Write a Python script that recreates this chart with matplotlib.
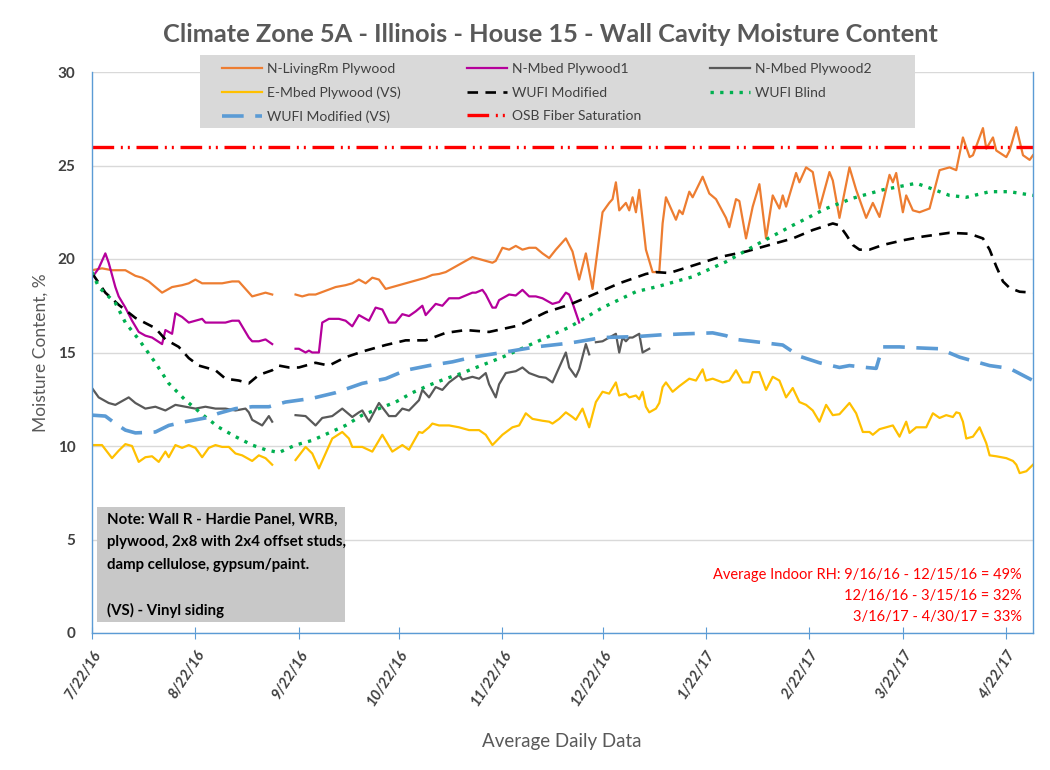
import numpy as np
import matplotlib
matplotlib.use('Agg')
import matplotlib.pyplot as plt
from matplotlib.patches import Rectangle

plt.rcParams['font.family'] = ['Lato', 'DejaVu Sans']

NAN = np.nan
START = np.datetime64('2016-07-22')
END = np.datetime64('2017-04-30')

tick_dates = ['2016-07-22', '2016-08-22', '2016-09-22', '2016-10-22', '2016-11-22',
              '2016-12-22', '2017-01-22', '2017-02-22', '2017-03-22', '2017-04-22']
tick_labels = ['7/22/16', '8/22/16', '9/22/16', '10/22/16', '11/22/16',
               '12/22/16', '1/22/17', '2/22/17', '3/22/17', '4/22/17']

# N-LivingRm Plywood (days since 7/22/16, moisture %)
livingrm_days = [0, 3, 6, 10, 13, 15, 17, 19, 21, 24, 27, 29, 31, 33, 35, 37, 39, 42, 44, 46, 48, 50, 52, 54, 57,
                 61, 63, 65, 67, 70, 73, 76, 78, 80, 82, 84, 86, 88, 90, 92, 94, 96, 98, 100, 102, 104, 106, 108,
                 110, 112, 114, 116, 118, 120, 121, 123, 125, 127, 129, 131, 133, 135, 137, 139, 141, 142, 144,
                 146, 148, 150, 153, 155, 156, 157, 158, 160, 161, 162, 163, 164, 166, 168, 170, 171, 172, 175,
                 176, 177, 179, 180, 183, 185, 187, 190, 191, 193, 194, 196, 198, 200, 202, 204, 206, 207, 208,
                 211, 212, 214, 216, 218, 221, 222, 224, 227, 229, 232, 234, 236, 239, 240, 241, 243, 244, 246,
                 248, 251, 254, 257, 259, 261, 263, 264, 267, 268, 270, 271, 274, 275, 277, 279, 281, 282]
livingrm_vals = [19.4, 19.5, 19.4, 19.4, 19.1, 19.0, 18.8, 18.5, 18.2, 18.5, 18.6, 18.7, 18.9, 18.7, 18.7, 18.7,
                 18.7, 18.8, 18.8, 18.4, 18.0, 18.1, 18.2, 18.1, NAN,
                 18.1, 18.0, 18.1, 18.1, 18.3, 18.5, 18.6, 18.7, 18.9, 18.7, 19.0, 18.9, 18.4, 18.5, 18.6, 18.7,
                 18.8, 18.9, 19.0, 19.15, 19.2, 19.3, 19.5, 19.7, 19.9, 20.1, 20.0, 19.9, 19.8, 19.9, 20.6, 20.5,
                 20.7, 20.5, 20.6, 20.6, 20.3, 20.05, 20.5, 20.9, 21.1, 20.4, 18.9, 20.3, 18.4, 22.5, 23.0, 23.2,
                 24.1, 22.6, 23.0, 22.6, 23.3, 22.5, 23.7, 20.5, 19.3, 19.3, 21.9, 23.3, 22.1, 22.6, 22.4, 23.6,
                 23.3, 24.4, 23.5, 23.2, 22.2, 21.7, 23.2, 23.1, 21.1, 22.8, 24.0, 21.1, 23.4, 22.7, 23.4, 22.8,
                 24.6, 24.1, 24.9, 24.65, 22.7, 24.65, 24.2, 22.2, 24.9, 23.7, 22.2, 23.0, 22.25, 24.5, 24.1, 24.6,
                 22.5, 23.4, 22.6, 22.5, 22.7, 24.75, 24.9, 24.75, 26.5, 25.45, 25.55, 27.0, 25.9, 26.5, 25.8,
                 25.45, 25.8, 27.05, 25.55, 25.3, 25.55]

# N-Mbed Plywood1
mbed1_days = [0, 2, 4, 5, 7, 8, 10, 12, 14, 16, 18, 21, 22, 23, 24, 25, 27, 29, 31, 33, 34, 36, 38, 40, 42, 44,
              45, 47, 48, 50, 52, 54, 57,
              61, 62, 64, 65, 66, 68, 69, 71, 72, 74, 76, 78, 80, 82, 83, 85, 87, 89, 91, 93, 95, 97, 99, 100,
              103, 105, 107, 110, 112, 114, 115, 117, 118, 120, 121, 122, 125, 127, 129, 131, 133, 135, 138,
              140, 142, 143, 144, 146]
mbed1_vals = [19.0, 19.5, 20.3, 19.8, 18.5, 18.0, 17.4, 16.7, 16.1, 15.9, 15.8, 15.45, 16.2, 16.1, 16.0, 17.1,
              16.9, 16.6, 16.7, 16.8, 16.6, 16.6, 16.6, 16.6, 16.7, 16.7, 16.4, 15.8, 15.6, 15.6, 15.7, 15.45, NAN,
              15.2, 15.2, 15.0, 15.1, 15.0, 15.0, 16.6, 16.8, 16.8, 16.8, 16.7, 16.4, 17.0, 16.8, 16.7, 17.4,
              17.3, 16.6, 16.6, 17.05, 16.95, 17.2, 17.5, 17.0, 17.6, 17.5, 17.9, 17.9, 18.05, 18.2, 18.2, 18.35,
              18.1, 17.4, 17.4, 17.8, 18.1, 18.05, 18.35, 18.0, 18.0, 17.9, 17.6, 17.7, 18.2, 18.1, 17.65, 16.6]

# N-Mbed Plywood2
mbed2_days = [0, 2, 5, 7, 9, 11, 13, 16, 19, 22, 25, 28, 31, 34, 37, 40, 43, 46, 47, 48, 51, 53, 54, 57,
              61, 64, 67, 69, 72, 75, 78, 80, 81, 83, 86, 89, 91, 93, 95, 98, 99, 101, 103, 105, 107, 110, 111,
              114, 116, 118, 119, 121, 122, 124, 127, 129, 131, 134, 136, 138, 140, 142, 143, 145, 146, 148, 149,
              150, 151, 153, 155, 157, 158, 159, 160, 161, 162, 164, 165, 167]
mbed2_vals = [13.1, 12.6, 12.3, 12.2, 12.4, 12.6, 12.3, 12.0, 12.1, 11.9, 12.2, 12.1, 12.0, 12.1, 12.0, 12.0,
              11.9, 12.0, 11.8, 11.4, 11.1, 11.6, 11.3, NAN,
              11.65, 11.6, 11.1, 11.5, 11.6, 12.0, 11.55, 11.8, 11.9, 11.3, 12.3, 11.6, 11.6, 12.0, 11.9, 12.45,
              13.0, 12.6, 13.15, 13.0, 13.4, 13.8, 13.55, 13.7, 13.6, 13.9, 13.3, 12.6, 13.3, 13.9, 14.0, 14.2,
              13.9, 13.7, 13.65, 13.4, 14.2, 15.0, 14.2, 13.7, 14.1, 15.45, 14.9,
              NAN, 15.55, 15.6, 15.8, 16.0, 15.0, 15.8, 15.6, 15.8, 15.8, 16.0, 15.0, 15.2]

# E-Mbed Plywood (VS)
embed_days = [0, 3, 6, 8, 10, 12, 14, 16, 18, 20, 22, 23, 25, 27, 29, 31, 33, 35, 37, 39, 41, 43, 45, 48, 50,
              52, 54, 57,
              61, 64, 66, 68, 70, 72, 75, 77, 78, 81, 84, 87, 90, 93, 95, 98, 99, 101, 102, 104, 107, 110, 113,
              116, 118, 120, 123, 126, 128, 130, 132, 135, 137, 138, 140, 142, 144, 145, 147, 149, 151, 153,
              155, 156, 157, 158, 160, 161, 163, 164, 165, 166, 167, 169, 170, 171, 172, 174, 176, 179, 181,
              183, 184, 186, 189, 191, 193, 195, 197, 198, 200, 202, 204, 206, 208, 210, 212, 214, 216, 218,
              220, 222, 224, 227, 229, 231, 233, 234, 236, 240, 242, 244, 245, 247, 250, 252, 254, 256, 258,
              259, 260, 261, 262, 264, 266, 268, 269, 271, 274, 276, 277, 278, 280, 282]
embed_vals = [10.05, 10.05, 9.35, 9.75, 10.1, 10.0, 9.15, 9.4, 9.45, 9.15, 9.7, 9.4, 10.05, 9.9, 10.05, 9.9,
              9.4, 9.9, 10.05, 9.95, 9.95, 9.6, 9.5, 9.2, 9.5, 9.35, 9.0, NAN,
              9.25, 9.95, 9.6, 8.8, 9.6, 10.4, 10.75, 10.4, 9.95, 9.95, 9.7, 10.6, 9.7, 10.05, 9.8, 10.75, 10.7,
              11.0, 11.2, 11.1, 11.1, 11.0, 10.85, 10.85, 10.6, 10.05, 10.6, 11.0, 11.1, 11.75, 11.45, 11.35,
              11.3, 11.2, 11.45, 11.8, 11.55, 11.4, 12.0, 11.0, 12.35, 12.9, 12.8, 13.1, 13.4, 12.7, 12.8, 12.6,
              12.7, 12.5, 12.9, 12.1, 11.8, 12.0, 12.3, 13.15, 13.4, 12.9, 13.2, 13.6, 13.5, 14.1, 13.5, 13.6,
              13.4, 13.5, 14.05, 13.4, 13.4, 13.95, 13.95, 13.0, 13.7, 13.5, 12.6, 13.1, 12.35, 12.2, 11.9,
              11.3, 12.2, 11.65, 11.7, 12.3, 11.75, 10.75, 10.75, 10.6, 10.9, 11.1, 10.5, 11.3, 10.7, 11.0,
              11.0, 11.75, 11.5, 11.65, 11.55, 11.8, 11.75, 11.3, 10.4, 10.5, 11.0, 10.15, 9.5, 9.45, 9.35,
              9.2, 9.0, 8.55, 8.65, 9.0]

# WUFI Modified
wufi_mod_days = [0, 4, 8, 13, 19, 22, 26, 29, 32, 37, 40, 44, 47, 50, 54, 56, 59, 62, 67, 71, 76, 82, 88, 94,
                 100, 106, 112, 119, 128, 136, 143, 149, 158, 166, 169, 173, 181, 188, 196, 203, 210, 216, 222,
                 224, 226, 228, 230, 233, 237, 243, 249, 257, 263, 267, 269, 271, 273, 275, 278, 282]
wufi_mod_vals = [19.25, 18.2, 17.55, 16.85, 16.3, 15.7, 15.3, 14.7, 14.3, 14.05, 13.6, 13.5, 13.35, 13.8, 14.05,
                 14.3, 14.2, 14.2, 14.45, 14.3, 14.75, 15.1, 15.4, 15.65, 15.65, 16.05, 16.2, 16.1, 16.45, 17.15,
                 17.55, 18.0, 18.7, 19.2, 19.3, 19.25, 19.7, 20.1, 20.4, 20.75, 21.1, 21.55, 21.9, 21.8, 21.3,
                 20.75, 20.5, 20.5, 20.75, 21.0, 21.2, 21.4, 21.35, 21.1, 20.5, 19.6, 18.8, 18.45, 18.25, 18.2]

# WUFI Blind
wufi_blind_days = [0, 2, 7, 10, 14, 19, 23, 28, 34, 38, 43, 48, 52, 56, 61, 66, 71, 76, 81, 86, 91, 96, 101,
                   106, 111, 113, 123, 133, 143, 153, 163, 170, 180, 190, 200, 210, 220, 228, 237, 247, 251, 257,
                   262, 269, 275, 282]
wufi_blind_vals = [19.3, 18.5, 17.65, 16.6, 15.7, 14.45, 13.35, 12.45, 11.55, 11.0, 10.5, 10.05, 9.8, 9.65,
                   10.05, 10.3, 10.7, 11.1, 11.65, 12.0, 12.35, 12.85, 13.25, 13.6, 13.9, 14.05, 14.75, 15.55,
                   16.35, 17.4, 18.25, 18.55, 19.05, 19.85, 20.85, 21.8, 22.7, 23.25, 23.7, 24.05, 23.8, 23.4,
                   23.3, 23.6, 23.6, 23.4]

# WUFI Modified (VS)
wufi_vs_days = [0, 4, 7, 10, 13, 19, 23, 28, 34, 38, 43, 48, 53, 58, 66, 73, 81, 88, 94, 101, 108, 114, 123,
                133, 143, 153, 163, 171, 178, 186, 190, 193, 200, 207, 212, 218, 224, 227, 232, 235, 236, 237,
                242, 247, 254, 260, 265, 269, 275, 282]
wufi_vs_vals = [11.65, 11.6, 11.2, 10.85, 10.7, 10.75, 11.1, 11.3, 11.5, 11.75, 12.0, 12.1, 12.1, 12.35, 12.55,
                12.85, 13.35, 13.6, 14.05, 14.3, 14.5, 14.75, 15.0, 15.3, 15.5, 15.8, 15.85, 15.95, 16.0, 16.05,
                15.9, 15.7, 15.55, 15.4, 14.8, 14.45, 14.2, 14.3, 14.2, 14.15, 14.75, 15.3, 15.3, 15.25, 15.2,
                14.75, 14.5, 14.3, 14.15, 13.5]

osb_saturation = 26.0


def to_dates(days):
    return START + np.array(days).astype('timedelta64[D]')


fig = plt.figure(figsize=(10.5, 7.7), dpi=100)
ax = fig.add_axes([92 / 1050, 1 - 633 / 770, (1033 - 92) / 1050, (633 - 72) / 770])

h_liv, = ax.plot(to_dates(livingrm_days), livingrm_vals, color='#ED7D31', lw=1.6, label='N-LivingRm Plywood')
h_m1, = ax.plot(to_dates(mbed1_days), mbed1_vals, color='#B5009B', lw=1.6, label='N-Mbed Plywood1')
h_m2, = ax.plot(to_dates(mbed2_days), mbed2_vals, color='#595959', lw=1.6, label='N-Mbed Plywood2')
h_em, = ax.plot(to_dates(embed_days), embed_vals, color='#FFC000', lw=1.6, label='E-Mbed Plywood (VS)')
h_wm, = ax.plot(to_dates(wufi_mod_days), wufi_mod_vals, color='black', lw=1.9,
                linestyle=(0, (4, 2.8)), label='WUFI Modified')
h_wb, = ax.plot(to_dates(wufi_blind_days), wufi_blind_vals, color='#00B050', lw=2.4,
                linestyle=(0, (1, 1.9)), label='WUFI Blind')
h_wv, = ax.plot(to_dates(wufi_vs_days), wufi_vs_vals, color='#5B9BD5', lw=2.6,
                linestyle=(0, (6, 3.2)), label='WUFI Modified (VS)')
h_osb = ax.axhline(osb_saturation, color='#FF0000', lw=2.4, linestyle=(0, (6.5, 2, 0.6, 1.5, 0.6, 2)),
                   label='OSB Fiber Saturation')

ax.set_xlim(START, END)
ax.set_ylim(0, 30)
ax.set_yticks([0, 5, 10, 15, 20, 25, 30])
ax.set_xticks(np.array(tick_dates, dtype='datetime64[D]'))
ax.set_xticklabels(tick_labels, rotation=57, ha='right', va='top', rotation_mode='anchor',
                   fontsize=10.5, fontweight='bold', fontstyle='italic', color='#404040')
for lbl in ax.get_yticklabels():
    lbl.set_fontsize(11)
    lbl.set_fontweight('bold')
    lbl.set_color('#404040')
ax.tick_params(axis='y', length=0, pad=12)
ax.tick_params(axis='x', direction='inout', length=9, color='#5B9BD5', pad=6)
ax.grid(axis='y', color='#D9D9D9', lw=1)
ax.set_axisbelow(True)
for s in ['left', 'bottom', 'right']:
    ax.spines[s].set_color('#5B9BD5')
    ax.spines[s].set_linewidth(1.0)
ax.spines['top'].set_visible(False)

ax.set_ylabel('Moisture Content, %', fontsize=12.5, color='#595959', labelpad=6)
fig.text(562 / 1050, 1 - 741 / 770, 'Average Daily Data', fontsize=13.5, color='#595959',
         ha='center', va='center')
fig.text(550 / 1050, 1 - 35 / 770,
         'Climate Zone 5A - Illinois - House 15 - Wall Cavity Moisture Content',
         fontsize=18.3, fontweight='bold', color='#595959', ha='center', va='center')

# legend background box
fig.patches.append(Rectangle((200 / 1050, 1 - 128 / 770), (915 - 200) / 1050, (128 - 55) / 770,
                             transform=fig.transFigure, facecolor='#D9D9D9', edgecolor='none', zorder=1))
legend_columns = [([h_liv, h_em, h_wv], 222), ([h_m1, h_wm, h_osb], 467), ([h_m2, h_wb], 710)]
for col_handles, x_px in legend_columns:
    leg = fig.legend(handles=col_handles, labels=[h.get_label() for h in col_handles], ncol=1,
                     loc='upper left', bbox_to_anchor=(x_px / 1050, 1 - 63 / 770), frameon=False,
                     borderpad=0, borderaxespad=0, fontsize=10, handlelength=2.9, handletextpad=0.35,
                     labelspacing=0.83)
    for t in leg.get_texts():
        t.set_color('#404040')

# note box
ax.add_patch(Rectangle((97 / 1050, 1 - 622 / 770), (345 - 97) / 1050, (622 - 507) / 770,
                       transform=fig.transFigure, facecolor='#C8C8C8', edgecolor='none', zorder=5))
note = ('Note: Wall R - Hardie Panel, WRB,\nplywood, 2x8 with 2x4 offset studs,\n'
        'damp cellulose, gypsum/paint.\n\n(VS) - Vinyl siding')
fig.text(107 / 1050, 1 - 513 / 770, note, fontsize=10.8, fontweight='bold', color='black',
         ha='left', va='top', linespacing=1.75, zorder=6)

rh_lines = ['Average Indoor RH: 9/16/16 - 12/15/16 = 49%',
            '12/16/16 - 3/15/16 = 32%',
            '3/16/17 - 4/30/17 = 33%']
for i, line in enumerate(rh_lines):
    fig.text(1022 / 1050, 1 - (575 + 21 * i) / 770, line, fontsize=10.5, color='#FF0000',
             ha='right', va='center')

fig.savefig('out.png', dpi=100)
